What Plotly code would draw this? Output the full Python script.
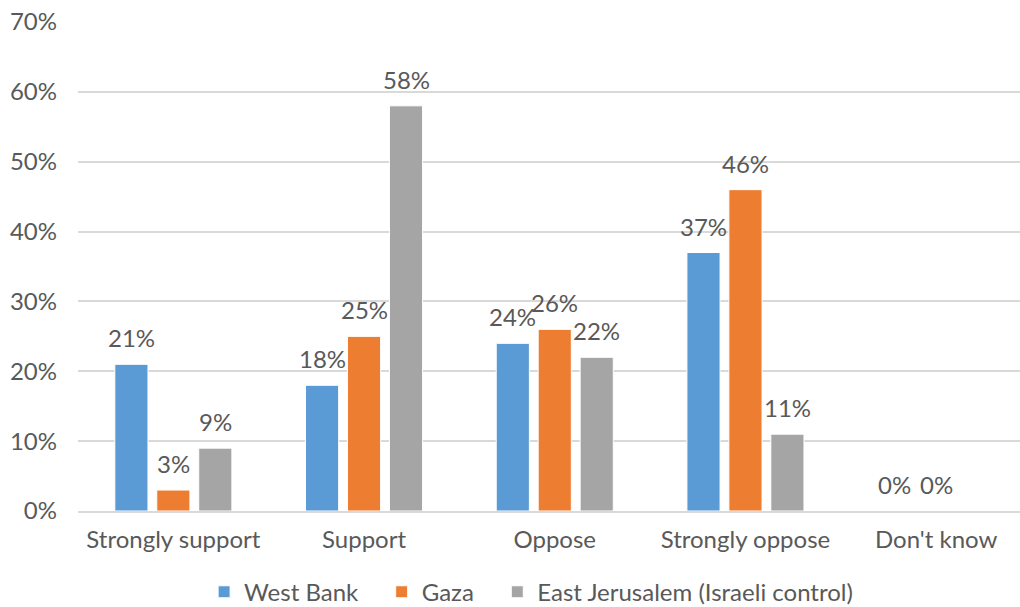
import plotly.graph_objects as go

categories = ["Strongly support", "Support", "Oppose", "Strongly oppose", "Don't know"]
west_bank = [21, 18, 24, 37, 0]
gaza = [3, 25, 26, 46, 0]
east_jerusalem = [9, 58, 22, 11, None]
series_names = ["West Bank", "Gaza", "East Jerusalem (Israeli control)"]
colors = ["#5B9BD5", "#ED7D31", "#A5A5A5"]
tick_vals = [0, 10, 20, 30, 40, 50, 60, 70]
tick_text = [f"{v}%" for v in tick_vals]

FONT = "Lato, 'Open Sans', sans-serif"
GREY = "#595959"
FS = 24

# layout/style constants
CAT_PX = 190.7          # pixel width of one category
SLOT_PX = 42            # pixel pitch between bars in a group
LABEL_LIFT = 10
NB = "\u00a0"
legend_pad = [3, 3, 0]  # trailing spacing after legend labels

fig = go.Figure()
all_series = [west_bank, gaza, east_jerusalem]
for name, vals, col, pad in zip(series_names, all_series, colors, legend_pad):
    fig.add_trace(go.Bar(
        x=categories, y=vals, name=name + NB * pad,
        marker=dict(color=col, line=dict(color="white", width=1)),
    ))

# data labels above bars
for i, vals in enumerate(all_series):
    shift = (i - 1) * SLOT_PX
    for cat, v in zip(categories, vals):
        if v is None:
            continue
        fig.add_annotation(
            x=cat, y=v, xref="x", yref="y", text=f"{v}%", showarrow=False,
            xshift=shift, yshift=LABEL_LIFT, yanchor="bottom", xanchor="center",
            font=dict(family=FONT, size=FS, color=GREY),
        )

plot_w = 1020 - 78
span = plot_w / CAT_PX

fig.update_layout(
    width=1020, height=607,
    margin=dict(l=78, r=0, t=22, b=96, autoexpand=False),
    paper_bgcolor="white", plot_bgcolor="white",
    barmode="group", bargap=0.34, bargroupgap=0.21,
    font=dict(family=FONT, size=FS, color=GREY),
    showlegend=True,
    legend=dict(orientation="h", x=0.481, xanchor="center", y=-0.166, yanchor="middle",
                font=dict(family=FONT, size=FS, color=GREY), itemwidth=30,
                traceorder="normal"),
    xaxis=dict(showgrid=False, showline=True, linecolor="#D9D9D9", linewidth=2,
               tickfont=dict(family=FONT, size=FS, color=GREY), ticks="",
               range=[-0.5, -0.5 + span], automargin=False, ticklabelstandoff=6),
    yaxis=dict(range=[0, 70], tickvals=tick_vals, ticktext=tick_text,
               showgrid=True, gridcolor="#D9D9D9", gridwidth=2, zeroline=False,
               tickfont=dict(family=FONT, size=FS, color=GREY), ticks="",
               ticklabelstandoff=20, automargin=False),
)

fig.write_html("out.html", config={"displayModeBar": False},
               post_script="document.body.style.margin='0';document.body.style.overflow='hidden';")
